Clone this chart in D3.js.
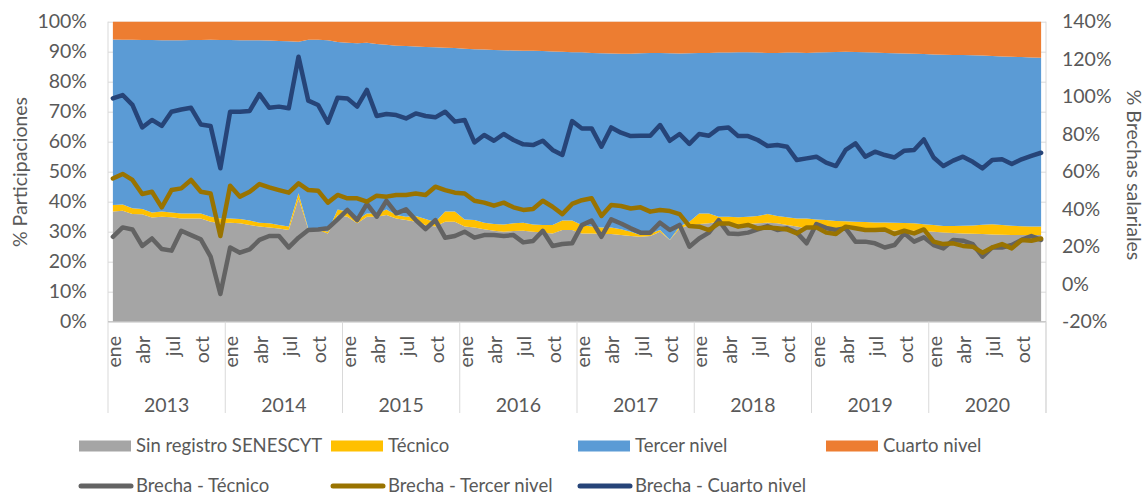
<!DOCTYPE html>
<html>
<head>
<meta charset="utf-8">
<script src="https://cdn.jsdelivr.net/npm/d3@7"></script>
<style>
  body { margin: 0; background: #fff; }
  svg text { font-family: Lato, "Open Sans", sans-serif; fill: #595959; }
</style>
</head>
<body>
<div id="chart"></div>
<script>
// categories
const years = ['2013', '2014', '2015', '2016', '2017', '2018', '2019', '2020'];
const monthNames = ['ene', 'feb', 'mar', 'abr', 'may', 'jun', 'jul', 'ago', 'sep', 'oct', 'nov', 'dic'];
const shownMonths = ['ene', 'abr', 'jul', 'oct'];

// participation shares (%), stacked
const sinRegistro = [
  36.7, 37.0, 35.9, 35.8, 34.7, 35.0, 34.8, 34.4, 34.4, 34.4, 33.3, 32.8,
  33.0, 32.8, 32.2, 31.7, 31.4, 31.1, 30.6, 41.1, 30.8, 30.6, 29.4, 35.6,
  35.0, 32.8, 35.0, 35.0, 35.6, 34.4, 33.9, 33.3, 32.2, 31.7, 33.3, 33.3,
  31.7, 31.4, 30.8, 30.3, 30.0, 30.2, 30.3, 30.0, 29.7, 29.4, 30.6, 30.6,
  29.4, 29.4, 29.2, 29.2, 28.9, 28.6, 28.3, 28.6, 30.0, 27.2, 31.1, 32.2,
  32.6, 32.8, 33.3, 32.8, 32.6, 32.6, 32.8, 33.0, 32.8, 32.2, 31.7, 31.1,
  31.1, 31.0, 30.9, 30.8, 30.7, 30.6, 30.6, 30.5, 30.4, 30.4, 30.3, 30.2,
  30.0, 29.7, 29.6, 29.4, 29.3, 29.2, 29.1, 29.0, 28.9, 28.9, 28.9, 28.9
];
const tecnico = [
  2.2, 2.1, 1.9, 1.8, 1.7, 1.7, 1.6, 1.7, 1.7, 1.7, 1.7, 1.6,
  1.4, 1.4, 1.5, 1.3, 1.4, 1.1, 1.1, 1.7, 0.3, 0.2, 0.6, 1.8,
  1.7, 1.1, 1.1, 1.1, 1.8, 1.2, 1.1, 1.9, 2.0, 1.5, 3.4, 3.4,
  2.4, 2.5, 2.2, 2.3, 2.4, 2.6, 2.7, 2.4, 2.5, 2.8, 3.1, 3.1,
  2.8, 2.3, 2.2, 2.2, 1.9, 1.4, 0.6, 0.8, 0.6, 0.1, 0.6, 1.1,
  3.5, 3.3, 1.7, 2.2, 2.2, 2.4, 2.4, 2.9, 2.4, 2.6, 2.7, 3.3,
  3.0, 2.9, 2.7, 2.7, 2.6, 2.6, 2.5, 2.6, 2.6, 2.5, 2.5, 2.3,
  2.2, 2.2, 2.3, 2.6, 2.8, 3.1, 3.4, 3.2, 3.1, 2.9, 2.8, 2.8
];
const tercerNivel = [
  55.2, 54.9, 56.2, 56.3, 57.5, 57.1, 57.4, 57.7, 57.8, 57.8, 59.0, 59.5,
  59.5, 59.6, 60.1, 60.8, 60.9, 61.4, 61.8, 50.5, 62.9, 63.2, 63.8, 55.8,
  56.3, 58.9, 56.9, 56.5, 54.9, 56.4, 56.9, 56.5, 57.4, 58.3, 54.6, 54.5,
  56.9, 56.9, 57.7, 58.0, 58.1, 57.6, 57.3, 57.9, 58.0, 57.9, 56.3, 56.1,
  57.6, 57.9, 58.1, 58.0, 58.5, 59.3, 60.6, 60.2, 59.0, 62.2, 57.7, 56.2,
  53.5, 53.5, 54.7, 54.7, 55.0, 54.8, 54.5, 53.7, 54.4, 54.9, 55.3, 55.2,
  55.6, 55.9, 56.3, 56.5, 56.6, 56.6, 56.6, 56.5, 56.5, 56.5, 56.5, 56.7,
  56.9, 57.1, 57.0, 56.9, 56.7, 56.4, 56.1, 56.2, 56.3, 56.4, 56.4, 56.3
];
const cuartoNivel = [
  5.9, 6.0, 6.0, 6.1, 6.1, 6.2, 6.2, 6.2, 6.1, 6.1, 6.0, 6.1,
  6.1, 6.2, 6.2, 6.2, 6.3, 6.4, 6.5, 6.7, 6.0, 6.0, 6.2, 6.8,
  7.0, 7.2, 7.0, 7.4, 7.7, 8.0, 8.1, 8.3, 8.4, 8.5, 8.7, 8.8,
  9.0, 9.2, 9.3, 9.4, 9.5, 9.6, 9.7, 9.7, 9.8, 9.9, 10.0, 10.2,
  10.2, 10.4, 10.5, 10.6, 10.7, 10.7, 10.5, 10.4, 10.4, 10.5, 10.6, 10.5,
  10.4, 10.4, 10.3, 10.3, 10.2, 10.2, 10.3, 10.4, 10.4, 10.3, 10.3, 10.4,
  10.3, 10.2, 10.1, 10.0, 10.1, 10.2, 10.3, 10.4, 10.5, 10.6, 10.7, 10.8,
  10.9, 11.0, 11.1, 11.1, 11.2, 11.3, 11.4, 11.6, 11.7, 11.8, 11.9, 12.0
];

// wage gaps (%), right axis
const brechaTecnico = [
  25.3, 30.3, 29.2, 20.4, 24.4, 18.8, 17.9, 28.5, 26.2, 23.9, 14.7, -5.2,
  19.6, 16.8, 18.6, 23.6, 25.7, 25.7, 19.6, 24.8, 28.9, 29.2, 29.8, 34.6,
  39.6, 34.2, 42.8, 36.0, 44.5, 37.8, 39.9, 34.2, 29.4, 34.2, 24.8, 25.7,
  28.0, 24.8, 26.2, 26.2, 25.7, 26.2, 22.3, 23.0, 28.5, 20.4, 21.4, 21.8,
  31.5, 33.9, 25.3, 34.6, 32.4, 29.8, 27.5, 27.5, 32.8, 28.9, 31.6, 20.0,
  24.4, 27.5, 34.2, 27.1, 26.8, 27.5, 29.2, 31.0, 28.9, 29.8, 27.5, 21.8,
  32.1, 30.0, 28.9, 29.8, 22.7, 22.7, 21.8, 19.6, 20.9, 27.1, 22.7, 25.0,
  20.9, 19.1, 23.6, 23.2, 21.4, 14.7, 19.6, 19.6, 20.9, 23.6, 25.7, 23.6
];
const brechaTercer = [
  56.4, 58.8, 55.6, 48.1, 49.3, 41.0, 50.2, 51.1, 55.6, 49.3, 48.4, 25.7,
  52.5, 46.7, 49.3, 53.4, 51.6, 50.2, 48.8, 53.8, 50.2, 49.9, 43.5, 47.6,
  45.8, 45.8, 44.0, 47.2, 46.7, 47.6, 47.6, 48.4, 47.6, 52.0, 50.2, 48.8,
  48.4, 44.5, 43.5, 41.9, 43.5, 41.0, 39.6, 40.1, 44.5, 41.3, 37.4, 42.8,
  44.8, 45.8, 36.4, 42.2, 41.7, 40.4, 41.0, 38.7, 39.6, 39.0, 37.4, 31.0,
  30.7, 28.9, 32.4, 32.4, 30.7, 31.6, 29.8, 30.3, 29.8, 29.2, 27.1, 30.3,
  30.3, 27.5, 26.8, 30.7, 29.8, 28.9, 28.9, 29.2, 26.8, 28.5, 27.1, 29.2,
  22.7, 21.4, 21.8, 20.4, 20.0, 16.8, 19.6, 21.4, 19.1, 23.6, 23.2, 24.4
];
const brechaCuarto = [
  99.1, 100.9, 95.6, 83.6, 87.6, 84.4, 92.0, 93.2, 94.1, 85.2, 84.4, 61.8,
  92.0, 92.0, 92.4, 101.4, 94.1, 94.7, 93.8, 121.3, 97.9, 95.6, 86.1, 99.5,
  99.1, 94.7, 103.6, 89.7, 90.8, 90.2, 88.4, 91.1, 89.7, 89.0, 92.0, 86.7,
  87.6, 75.6, 79.6, 76.5, 80.1, 76.9, 74.6, 74.2, 76.5, 71.6, 68.9, 87.0,
  83.0, 83.1, 73.3, 83.6, 80.8, 79.0, 79.2, 79.2, 84.9, 76.5, 80.1, 74.8,
  80.1, 79.2, 83.1, 83.6, 79.0, 79.0, 76.9, 73.7, 74.2, 73.3, 66.2, 67.1,
  68.0, 64.8, 63.0, 71.6, 75.1, 68.0, 70.7, 68.9, 67.6, 71.2, 71.6, 77.2,
  67.6, 63.0, 65.9, 68.0, 65.3, 61.8, 66.2, 66.6, 64.1, 66.6, 68.4, 70.1
];

const leftTicks = [0, 10, 20, 30, 40, 50, 60, 70, 80, 90, 100];
const rightTicks = [-20, 0, 20, 40, 60, 80, 100, 120, 140];

const areaSeries = [
  { key: 'sin', name: 'Sin registro SENESCYT', values: sinRegistro, color: '#a5a5a5' },
  { key: 'tec', name: 'Técnico', values: tecnico, color: '#ffc000' },
  { key: 'ter', name: 'Tercer nivel', values: tercerNivel, color: '#5b9bd5' },
  { key: 'cua', name: 'Cuarto nivel', values: cuartoNivel, color: '#ed7d31' }
];
const lineSeries = [
  { name: 'Brecha - Técnico', values: brechaTecnico, color: '#636363' },
  { name: 'Brecha - Tercer nivel', values: brechaTercer, color: '#997300' },
  { name: 'Brecha - Cuarto nivel', values: brechaCuarto, color: '#264478' }
];

function drawChart() {
  const width = 1146;
  const height = 495;
  const plot = { left: 108, right: 1046, top: 21.7, bottom: 321.7 };
  const fontSize = '19.5px';
  const legendFont = '18.5px';

  const svg = d3.select('#chart').append('svg')
    .attr('width', width)
    .attr('height', height)
    .attr('viewBox', `0 0 ${width} ${height}`);

  // one category per month
  const cats = years.flatMap(y => monthNames.map(m => ({ year: y, month: m, key: `${y}-${m}` })));
  const rows = cats.map((c, i) => {
    const r = { key: c.key };
    areaSeries.forEach(s => { r[s.key] = s.values[i]; });
    return r;
  });

  const x = d3.scaleBand()
    .domain(cats.map(c => c.key))
    .range([plot.left, plot.right])
    .padding(0);
  const cx = k => x(k) + x.bandwidth() / 2;

  const yLeft = d3.scaleLinear().domain([0, 100]).range([plot.bottom, plot.top]);
  const yRight = d3.scaleLinear().domain([-20, 140]).range([plot.bottom, plot.top]);

  // gridlines
  svg.append('g')
    .attr('transform', `translate(${plot.left},0)`)
    .call(d3.axisLeft(yLeft).tickValues(leftTicks).tickSize(-(plot.right - plot.left)).tickFormat(''))
    .call(g => g.select('.domain').remove())
    .selectAll('line').attr('stroke', '#d9d9d9');

  // stacked areas
  const stack = d3.stack().keys(areaSeries.map(s => s.key));
  const layers = stack(rows);
  const area = d3.area()
    .x(d => cx(d.data.key))
    .y0(d => yLeft(d[0]))
    .y1(d => yLeft(d[1]));

  svg.append('g').selectAll('path')
    .data(layers)
    .enter()
    .append('path')
    .attr('d', area)
    .attr('fill', (d, i) => areaSeries[i].color);

  // side frame lines
  [plot.left, plot.right].forEach(px => {
    svg.append('line')
      .attr('x1', px).attr('x2', px)
      .attr('y1', plot.top).attr('y2', 413)
      .attr('stroke', '#d9d9d9');
  });
  svg.append('line')
    .attr('x1', plot.left).attr('x2', plot.right)
    .attr('y1', plot.bottom).attr('y2', plot.bottom)
    .attr('stroke', '#bfbfbf');

  // gap lines
  lineSeries.forEach(s => {
    const line = d3.line()
      .x((d, i) => cx(cats[i].key))
      .y(d => yRight(d));
    svg.append('path')
      .datum(s.values)
      .attr('d', line)
      .attr('fill', 'none')
      .attr('stroke', s.color)
      .attr('stroke-width', 4.5)
      .attr('stroke-linejoin', 'round')
      .attr('stroke-linecap', 'round');
  });

  // left axis
  svg.append('g')
    .attr('transform', `translate(${plot.left},0)`)
    .call(d3.axisLeft(yLeft).tickValues(leftTicks).tickSize(0).tickPadding(21).tickFormat(d => `${d}%`))
    .call(g => g.select('.domain').remove())
    .selectAll('text')
    .attr('font-size', fontSize)
    .style('font-family', 'Lato, sans-serif')
    .attr('fill', '#595959');

  // right axis
  svg.append('g')
    .attr('transform', `translate(${plot.right},0)`)
    .call(d3.axisRight(yRight).tickValues(rightTicks).tickSize(0).tickPadding(16).tickFormat(d => `${d}%`))
    .call(g => g.select('.domain').remove())
    .selectAll('text')
    .attr('font-size', fontSize)
    .style('font-family', 'Lato, sans-serif')
    .attr('fill', '#595959');

  // month labels
  svg.append('g').selectAll('text')
    .data(cats.filter(c => shownMonths.includes(c.month)))
    .enter()
    .append('text')
    .attr('transform', d => `translate(${cx(d.key)},336) rotate(-90)`)
    .attr('text-anchor', 'end')
    .attr('dy', '0.42em')
    .attr('font-size', fontSize)
    .text(d => d.month);

  // year separators and labels
  const yearStart = y => x(`${y}-ene`);
  const yearEnd = y => x(`${y}-dic`) + x.bandwidth();
  svg.append('g').selectAll('line')
    .data(years)
    .enter()
    .append('line')
    .attr('x1', d => yearEnd(d)).attr('x2', d => yearEnd(d))
    .attr('y1', plot.bottom).attr('y2', 413)
    .attr('stroke', '#d9d9d9');

  svg.append('g').selectAll('text')
    .data(years)
    .enter()
    .append('text')
    .attr('x', d => (yearStart(d) + yearEnd(d)) / 2)
    .attr('y', 405)
    .attr('dy', '0.35em')
    .attr('text-anchor', 'middle')
    .attr('font-size', fontSize)
    .text(d => d);

  // axis titles
  svg.append('text')
    .attr('transform', 'translate(20,172) rotate(-90)')
    .attr('text-anchor', 'middle')
    .attr('dy', '0.35em')
    .attr('font-size', fontSize)
    .text('% Participaciones');

  svg.append('text')
    .attr('transform', 'translate(1134,175) rotate(90)')
    .attr('text-anchor', 'middle')
    .attr('dy', '0.35em')
    .attr('font-size', fontSize)
    .text('% Brechas salariales');

  // legend
  const legendCols = [79, 331, 578, 826];
  const row1 = svg.append('g').attr('transform', 'translate(0,446)');
  areaSeries.forEach((s, i) => {
    row1.append('rect')
      .attr('x', legendCols[i]).attr('y', -5.5)
      .attr('width', 52).attr('height', 11)
      .attr('fill', s.color);
    row1.append('text')
      .attr('x', legendCols[i] + 57).attr('dy', '0.35em')
      .attr('font-size', legendFont)
      .text(s.name);
  });
  const row2 = svg.append('g').attr('transform', 'translate(0,486)');
  lineSeries.forEach((s, i) => {
    row2.append('line')
      .attr('x1', legendCols[i] + 2).attr('x2', legendCols[i] + 52)
      .attr('stroke', s.color)
      .attr('stroke-width', 5)
      .attr('stroke-linecap', 'round');
    row2.append('text')
      .attr('x', legendCols[i] + 57).attr('dy', '0.35em')
      .attr('font-size', legendFont)
      .text(s.name);
  });
}

drawChart();
</script>
</body>
</html>
